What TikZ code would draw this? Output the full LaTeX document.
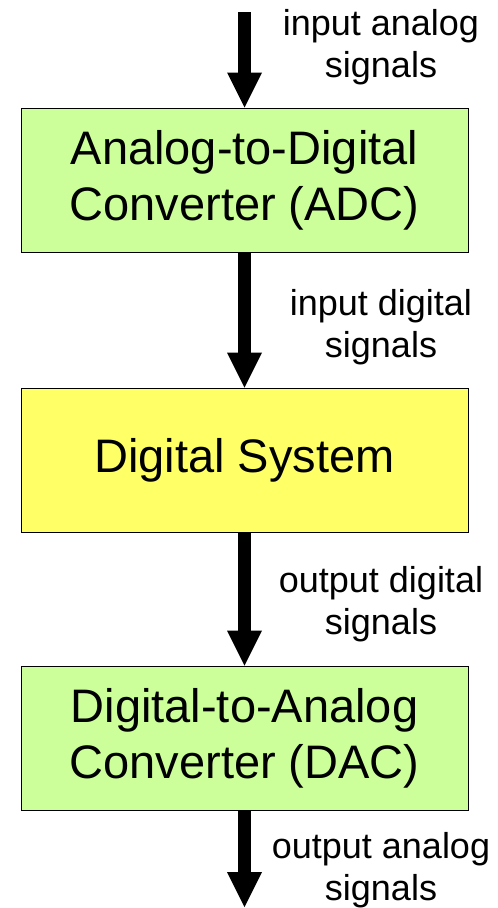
\documentclass[tikz,border=0pt]{standalone}
\usepackage{fontspec}
\setmainfont{Liberation Sans}
\usetikzlibrary{arrows.meta, positioning}

\definecolor{adcgreen}{RGB}{204,255,153}
\definecolor{dsyellow}{RGB}{255,255,102}

\begin{document}
\begin{tikzpicture}[x=1pt,y=1pt,
        block/.style={draw,line width=1pt,minimum width=447pt,minimum height=144pt,
            align=center,inner sep=0pt,font=\fontsize{47}{56}\selectfont},
        flow/.style={line width=13pt,-{Triangle[length=35pt,width=35pt,line width=0pt]}},
        note/.style={align=center,inner sep=0pt,font=\fontsize{36}{42}\selectfont}]

    \useasboundingbox (0,0) rectangle (498,-908);

    \node[block,fill=adcgreen] (adc) at (244.5,-180) {Analog-to-Digital\\Converter (ADC)};
    \node[block,fill=dsyellow,below=135pt of adc] (ds) {Digital System};
    \node[block,fill=adcgreen,below=133pt of ds] (dac) {Digital-to-Analog\\Converter (DAC)};

    \coordinate (in) at (244.5,-12);
    \coordinate (out) at (244.5,-907);

    \draw[flow] (in) -- (adc.north);
    \draw[flow] (adc.south) -- (ds.north);
    \draw[flow] (ds.south) -- (dac.north);
    \draw[flow] (dac.south) -- (out);

    \node[note] (lblain) at (381,-47) {input analog\\signals};
    \node[note] (lbldin) at (381,-327) {input digital\\signals};
    \node[note] (lbldout) at (381,-604) {output digital\\signals};
    \node[note] (lblaout) at (381,-870) {output analog\\signals};
\end{tikzpicture}
\end{document}
